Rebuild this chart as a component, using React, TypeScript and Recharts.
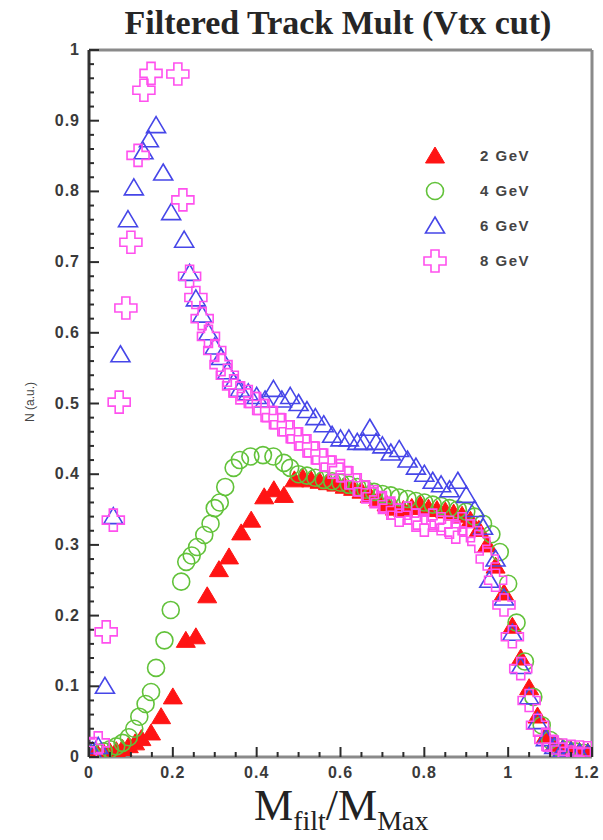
import { ScatterChart, Scatter, XAxis, YAxis, ReferenceLine } from 'recharts';

// Filtered track multiplicity, normalised, for four beam energies
const RED_X = [0.005, 0.02, 0.035, 0.05, 0.065, 0.08, 0.095, 0.11, 0.125, 0.148, 0.172, 0.2, 0.231, 0.255, 0.282, 0.31, 0.334, 0.363, 0.387, 0.418, 0.441, 0.465, 0.49, 0.51, 0.53, 0.55, 0.57, 0.59, 0.61, 0.63, 0.65, 0.67, 0.69, 0.71, 0.73, 0.75, 0.77, 0.79, 0.81, 0.83, 0.85, 0.87, 0.89, 0.91, 0.93, 0.95, 0.97, 0.99, 1.01, 1.03, 1.05, 1.07, 1.09, 1.11, 1.13, 1.15, 1.17, 1.19];
const RED_Y = [0.004, 0.005, 0.006, 0.007, 0.009, 0.012, 0.016, 0.02, 0.026, 0.034, 0.057, 0.085, 0.165, 0.17, 0.228, 0.265, 0.283, 0.317, 0.335, 0.368, 0.378, 0.37, 0.392, 0.395, 0.392, 0.39, 0.388, 0.386, 0.383, 0.38, 0.376, 0.37, 0.365, 0.358, 0.352, 0.35, 0.353, 0.357, 0.352, 0.35, 0.348, 0.345, 0.342, 0.335, 0.322, 0.3, 0.27, 0.232, 0.185, 0.14, 0.098, 0.058, 0.03, 0.018, 0.012, 0.01, 0.008, 0.007];

const GREEN_X = [0.005, 0.02, 0.035, 0.05, 0.065, 0.08, 0.095, 0.108, 0.12, 0.135, 0.148, 0.16, 0.18, 0.195, 0.22, 0.232, 0.245, 0.258, 0.275, 0.29, 0.3, 0.312, 0.325, 0.345, 0.36, 0.385, 0.415, 0.44, 0.465, 0.48, 0.5, 0.52, 0.54, 0.56, 0.58, 0.6, 0.62, 0.64, 0.66, 0.68, 0.7, 0.72, 0.74, 0.76, 0.78, 0.8, 0.82, 0.84, 0.86, 0.88, 0.9, 0.92, 0.94, 0.96, 0.98, 1.0, 1.02, 1.04, 1.06, 1.08, 1.1, 1.12, 1.14, 1.16, 1.18];
const GREEN_Y = [0.004, 0.006, 0.008, 0.011, 0.015, 0.02, 0.028, 0.04, 0.057, 0.075, 0.092, 0.126, 0.165, 0.208, 0.248, 0.276, 0.285, 0.297, 0.314, 0.33, 0.352, 0.36, 0.382, 0.409, 0.42, 0.425, 0.427, 0.425, 0.416, 0.409, 0.4, 0.398, 0.395, 0.392, 0.39, 0.388, 0.385, 0.382, 0.378, 0.375, 0.372, 0.37, 0.367, 0.365, 0.362, 0.36, 0.357, 0.355, 0.352, 0.35, 0.347, 0.34, 0.33, 0.315, 0.29, 0.245, 0.19, 0.135, 0.085, 0.045, 0.024, 0.014, 0.01, 0.008, 0.006];

const BLUE_X = [0.008, 0.022, 0.038, 0.058, 0.075, 0.093, 0.107, 0.13, 0.143, 0.16, 0.177, 0.196, 0.227, 0.24, 0.255, 0.27, 0.285, 0.3, 0.315, 0.33, 0.345, 0.36, 0.38, 0.4, 0.42, 0.44, 0.46, 0.48, 0.5, 0.52, 0.54, 0.56, 0.58, 0.6, 0.62, 0.64, 0.655, 0.67, 0.685, 0.7, 0.72, 0.74, 0.76, 0.78, 0.8, 0.82, 0.84, 0.86, 0.88, 0.9, 0.92, 0.94, 0.955, 0.97, 0.99, 1.01, 1.03, 1.05, 1.07, 1.09, 1.11, 1.13, 1.15, 1.17, 1.19];
const BLUE_Y = [0.008, 0.015, 0.1, 0.34, 0.569, 0.76, 0.805, 0.856, 0.873, 0.893, 0.826, 0.77, 0.731, 0.684, 0.648, 0.625, 0.6, 0.58, 0.565, 0.545, 0.53, 0.52, 0.515, 0.51, 0.505, 0.52, 0.505, 0.51, 0.5, 0.49, 0.48, 0.47, 0.455, 0.45, 0.45, 0.445, 0.445, 0.465, 0.445, 0.44, 0.43, 0.435, 0.42, 0.41, 0.4, 0.39, 0.385, 0.378, 0.39, 0.37, 0.35, 0.325, 0.25, 0.28, 0.225, 0.175, 0.128, 0.085, 0.05, 0.026, 0.015, 0.01, 0.008, 0.006, 0.005];

const PINK_X = [0.008, 0.022, 0.041, 0.058, 0.072, 0.088, 0.1, 0.117, 0.131, 0.148, 0.212, 0.224, 0.24, 0.255, 0.27, 0.285, 0.3, 0.315, 0.33, 0.345, 0.36, 0.38, 0.4, 0.42, 0.44, 0.46, 0.48, 0.5, 0.52, 0.54, 0.56, 0.58, 0.6, 0.62, 0.64, 0.66, 0.68, 0.7, 0.72, 0.74, 0.76, 0.78, 0.8, 0.82, 0.84, 0.86, 0.875, 0.89, 0.91, 0.93, 0.95, 0.97, 0.99, 1.01, 1.03, 1.05, 1.07, 1.09, 1.11, 1.13, 1.15, 1.17, 1.19];
const PINK_Y = [0.012, 0.02, 0.177, 0.335, 0.502, 0.635, 0.728, 0.851, 0.943, 0.967, 0.966, 0.788, 0.68, 0.65, 0.62, 0.595, 0.575, 0.555, 0.54, 0.525, 0.515, 0.51, 0.5, 0.49, 0.48, 0.47, 0.46, 0.45, 0.44, 0.43, 0.42, 0.41, 0.405, 0.395, 0.385, 0.375, 0.368, 0.36, 0.352, 0.342, 0.345, 0.335, 0.328, 0.335, 0.33, 0.325, 0.318, 0.33, 0.32, 0.305, 0.28, 0.25, 0.215, 0.17, 0.125, 0.08, 0.045, 0.025, 0.014, 0.01, 0.008, 0.007, 0.006];

const X_TICKS = Array.from({ length: 25 }, (_, i) => +(i * 0.05).toFixed(2));
const Y_TICKS = Array.from({ length: 51 }, (_, i) => +(i * 0.02).toFixed(2));

const zip = (xs: number[], ys: number[]) => xs.map((x, i) => ({ x, y: ys[i] }));

type Mark = 'triFill' | 'circle' | 'tri' | 'cross';

function marker(kind: Mark, color: string, cx: number, cy: number) {
  if (kind === 'circle') {
    return <circle cx={cx} cy={cy} r={8.5} fill="none" stroke={color} strokeWidth={1.6} />;
  }
  if (kind === 'cross') {
    const a = 4, b = 11;
    const d = `M${cx - a},${cy - b}H${cx + a}V${cy - a}H${cx + b}V${cy + a}H${cx + a}V${cy + b}H${cx - a}V${cy + a}H${cx - b}V${cy - a}H${cx - a}Z`;
    return <path d={d} fill="none" stroke={color} strokeWidth={1.6} />;
  }
  const d = `M${cx},${cy - 9}L${cx + 9.5},${cy + 7}L${cx - 9.5},${cy + 7}Z`;
  return kind === 'triFill'
    ? <path d={d} fill={color} stroke={color} strokeWidth={1} />
    : <path d={d} fill="none" stroke={color} strokeWidth={1.6} />;
}

const SERIES: { name: string; kind: Mark; color: string; data: { x: number; y: number }[] }[] = [
  { name: '2 GeV', kind: 'triFill', color: '#ff1414', data: zip(RED_X, RED_Y) },
  { name: '4 GeV', kind: 'circle', color: '#62c23a', data: zip(GREEN_X, GREEN_Y) },
  { name: '6 GeV', kind: 'tri', color: '#4646e8', data: zip(BLUE_X, BLUE_Y) },
  { name: '8 GeV', kind: 'cross', color: '#ff50ee', data: zip(PINK_X, PINK_Y) },
];

const isMajor = (v: number, step: number) => Math.abs(v / step - Math.round(v / step)) < 1e-6;

const sans = 'Liberation Sans, Arial, sans-serif';
const tickFont = { fontFamily: sans, fontWeight: 700, fontSize: 16, fill: '#3a3a3a', letterSpacing: 1 };

// inward ticks, labels only on the major ones
function XTick(props: any) {
  const { x, y, payload } = props;
  const v = payload.value as number;
  const major = isMajor(v, 0.2);
  // the last label sits against the frame edge, so pull it in a little
  const dx = v >= 1.2 ? -5 : 0;
  return (
    <g>
      <line x1={x} x2={x} y1={y} y2={y - (major ? 10 : 5)} stroke="#2c2c2c" strokeWidth={2} />
      {major && (
        <text x={x + dx} y={y + 21} textAnchor="middle" {...tickFont}>
          {String(v)}
        </text>
      )}
    </g>
  );
}

function YTick(props: any) {
  const { x, y, payload } = props;
  const v = payload.value as number;
  const major = isMajor(v, 0.1);
  return (
    <g>
      <line x1={x} x2={x + (major ? 10 : 5)} y1={y} y2={y} stroke="#2c2c2c" strokeWidth={2} />
      {major && (
        <text x={x - 9} y={y + 5} textAnchor="end" {...tickFont}>
          {String(v)}
        </text>
      )}
    </g>
  );
}

function EnergyLegend() {
  return (
    <div style={{ position: 'absolute', left: 420, top: 138, fontFamily: sans, fontWeight: 700, fontSize: 15, color: '#444', letterSpacing: 1.5 }}>
      {SERIES.map((s) => (
        <div key={s.name} style={{ display: 'flex', alignItems: 'center', height: 35 }}>
          <svg width={30} height={30} style={{ marginRight: 30 }}>
            {marker(s.kind, s.color, 15, 15)}
          </svg>
          <span>{s.name}</span>
        </div>
      ))}
    </div>
  );
}

export default function App() {
  return (
    <div style={{ position: 'absolute', left: 0, top: 0, width: 603, height: 840, background: '#fff' }}>
      <div
        style={{
          position: 'absolute', left: 88, top: 4, width: 500, textAlign: 'center',
          fontFamily: 'Liberation Serif, serif', fontWeight: 700, fontSize: 34, color: '#262626',
        }}
      >
        Filtered Track Mult (Vtx cut)
      </div>
      <ScatterChart width={603} height={840} margin={{ top: 50, right: 11, bottom: 0, left: 0 }}>
        <XAxis
          type="number" dataKey="x" domain={[0, 1.2]} ticks={X_TICKS} interval={0}
          height={83} tickSize={0} tickMargin={0} tickLine={false}
          axisLine={{ stroke: '#8a8a8a', strokeWidth: 3 }} tick={<XTick />} allowDataOverflow
        />
        <YAxis
          type="number" dataKey="y" domain={[0, 1]} ticks={Y_TICKS} interval={0}
          width={89} tickSize={0} tickMargin={0} tickLine={false}
          axisLine={{ stroke: '#333', strokeWidth: 3 }} tick={<YTick />} allowDataOverflow
        />
        <ReferenceLine y={1} stroke="#8a8a8a" strokeWidth={3} />
        <ReferenceLine x={1.2} stroke="#8a8a8a" strokeWidth={3} />
        {SERIES.map((s) => (
          <Scatter
            key={s.name} name={s.name} data={s.data} isAnimationActive={false}
            shape={(p: any) => marker(s.kind, s.color, p.cx, p.cy)}
          />
        ))}
      </ScatterChart>
      <EnergyLegend />
      <div
        style={{
          position: 'absolute', left: 30, top: 402, transform: 'translate(-50%, -50%) rotate(-90deg)',
          fontFamily: sans, fontSize: 12, color: '#444', whiteSpace: 'nowrap',
        }}
      >
        N (a.u.)
      </div>
      <div
        style={{
          position: 'absolute', left: 254, top: 788, whiteSpace: 'nowrap',
          fontFamily: 'Liberation Serif, serif', fontSize: 44, color: '#222', lineHeight: '36px',
        }}
      >
        M<sub style={{ fontSize: 28, lineHeight: 0 }}>filt</sub>/M<sub style={{ fontSize: 28, lineHeight: 0 }}>Max</sub>
      </div>
    </div>
  );
}
